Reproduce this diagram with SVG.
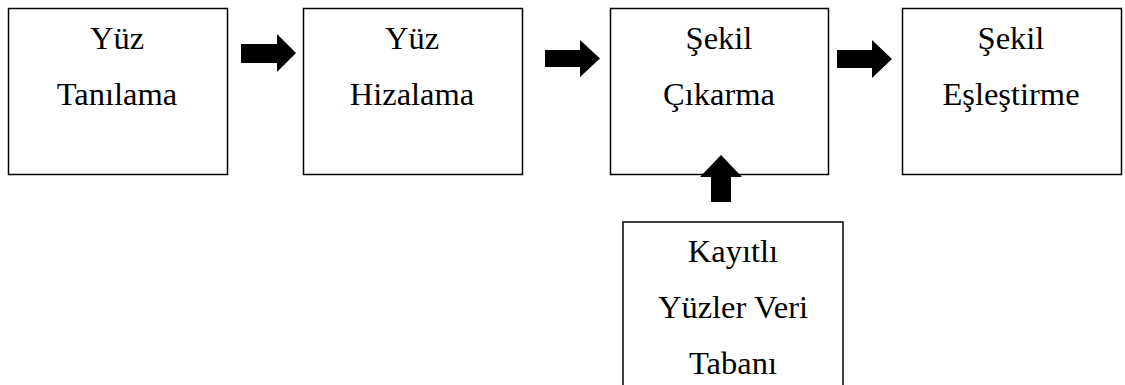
<svg xmlns="http://www.w3.org/2000/svg" width="1125" height="385" viewBox="0 0 1125 385">
  <style>
    .box { fill: #ffffff; stroke: #000000; stroke-width: 1.5; }
    .label { font-family: "Liberation Serif", "Times New Roman", serif; font-size: 32.5px; fill: #000000; text-anchor: middle; }
    .arrow { fill: #000000; stroke: none; }
  </style>
  <rect width="1125" height="385" fill="#ffffff"/>

  <g id="node-yuz-tanilama">
    <rect class="box" x="8.5" y="8.5" width="219" height="166"/>
    <text class="label" x="117" y="49">Yüz</text>
    <text class="label" x="117" y="105">Tanılama</text>
  </g>

  <g id="node-yuz-hizalama">
    <rect class="box" x="303.5" y="8.5" width="219" height="166"/>
    <text class="label" x="412" y="49">Yüz</text>
    <text class="label" x="412" y="105">Hizalama</text>
  </g>

  <g id="node-sekil-cikarma">
    <rect class="box" x="610.5" y="8.5" width="218" height="166"/>
    <text class="label" x="719" y="49">Şekil</text>
    <text class="label" x="719" y="105">Çıkarma</text>
  </g>

  <g id="node-sekil-eslestirme">
    <rect class="box" x="902.5" y="8.5" width="219" height="166"/>
    <text class="label" x="1011" y="49">Şekil</text>
    <text class="label" x="1011" y="105">Eşleştirme</text>
  </g>

  <g id="node-kayitli-yuzler">
    <rect class="box" x="623" y="222" width="220" height="180"/>
    <text class="label" x="733" y="262">Kayıtlı</text>
    <text class="label" x="733" y="318">Yüzler Veri</text>
    <text class="label" x="733" y="374">Tabanı</text>
  </g>

  <g id="connectors">
    <!-- block arrows between stages -->
    <polygon class="arrow" points="241,44 277,44 277,34 296,53 277,72 277,63 241,63"/>
    <polygon class="arrow" points="545,50 580,50 580,40 600,58.5 580,77 580,67 545,67"/>
    <polygon class="arrow" points="837,50 872,50 872,40 892,59 872,78 872,68 837,68"/>
    <!-- upward arrow from the database into shape extraction -->
    <polygon class="arrow" points="711,202 711,177 700,177 721,155 742,177 731,177 731,202"/>
  </g>
</svg>
